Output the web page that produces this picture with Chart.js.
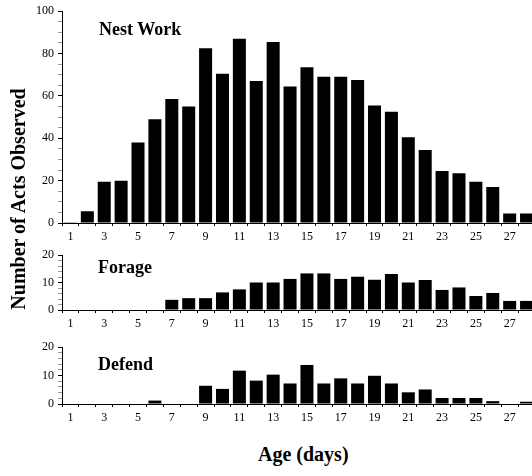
<!DOCTYPE html>
<html>
<head>
<meta charset="utf-8">
<script src="https://cdn.jsdelivr.net/npm/chart.js@4/dist/chart.umd.min.js"></script>
<style>
  html, body { margin: 0; padding: 0; background: #fff; }
  body { width: 532px; height: 476px; overflow: hidden; position: relative; font-family: "Liberation Serif", serif; }
  .panel { position: absolute; left: 0; }
  .label { position: absolute; font-weight: bold; color: #000; white-space: nowrap; }
  .panel-title { font-size: 18px; line-height: 18px; }
  #yTitle { font-size: 20px; line-height: 20px; width: 300px; text-align: center; left: -132px; top: 189px; transform: rotate(-90deg); }
  #xTitle { font-size: 20px; line-height: 20px; left: 258px; top: 444px; }
</style>
</head>
<body>
<div class="panel" style="top:0"><canvas id="nestChart" width="540" height="250"></canvas></div>
<div class="panel" style="top:240px"><canvas id="forageChart" width="540" height="100"></canvas></div>
<div class="panel" style="top:335px"><canvas id="defendChart" width="540" height="100"></canvas></div>

<div class="label panel-title" style="left:99px; top:20px">Nest Work</div>
<div class="label panel-title" style="left:98px; top:258px">Forage</div>
<div class="label panel-title" style="left:98px; top:355px">Defend</div>
<div class="label" id="yTitle">Number of Acts Observed</div>
<div class="label" id="xTitle">Age (days)</div>

<script>
const ages = ["1", "2", "3", "4", "5", "6", "7", "8", "9", "10", "11", "12", "13", "14",
  "15", "16", "17", "18", "19", "20", "21", "22", "23", "24", "25", "26", "27", "28"];
const shownAges = ["1", "3", "5", "7", "9", "11", "13", "15", "17", "19", "21", "23", "25", "27"];

const nestWork = [0.4, 5.5, 19.5, 20, 38, 49, 58.5, 55, 82.5, 70.5, 87, 67, 85.5, 64.5,
  73.5, 69, 69, 67.5, 55.5, 52.5, 40.5, 34.5, 24.5, 23.5, 19.5, 17, 4.5, 4.5];
const forage = [0, 0, 0, 0, 0, 0, 3.7, 4.3, 4.3, 6.4, 7.5, 10, 10, 11.3,
  13.3, 13.3, 11.3, 12.1, 11, 13.1, 10, 10.9, 7.3, 8.2, 5.1, 6.2, 3.3, 3.3];
const defend = [0, 0, 0, 0, 0, 1.2, 0, 0, 6.4, 5.3, 11.7, 8.2, 10.3, 7.2,
  13.7, 7.2, 9, 7.2, 9.9, 7.2, 4.1, 5.1, 2.1, 2.1, 2.1, 1, 0, 0.8];

const nestTicks = [0, 20, 40, 60, 80, 100];
const smallTicks = [0, 10, 20];

const tickFont = { family: "Liberation Serif", size: 12 };

// minor ticks get no label and a lighter mark
function makePanel(canvasId, values, majorTicks, minorStep, padTop, xHeight) {
  const isMajor = (v) => majorTicks.includes(v);
  return new Chart(document.getElementById(canvasId), {
    type: "bar",
    data: {
      labels: ages,
      datasets: [{
        data: values,
        backgroundColor: "#000",
        borderWidth: 0,
        barPercentage: 0.77,
        categoryPercentage: 1.0,
      }],
    },
    options: {
      responsive: false,
      animation: false,
      layout: { padding: { top: padTop, right: 5, left: 0, bottom: 0 } },
      plugins: { legend: { display: false }, tooltip: { enabled: false } },
      scales: {
        x: {
          afterFit: (scale) => { scale.height = xHeight; },
          border: { display: true, color: "#000", width: 1 },
          grid: { display: true, drawOnChartArea: false, drawTicks: true, tickLength: 3, color: "#000" },
          ticks: {
            autoSkip: false,
            maxRotation: 0,
            padding: 4,
            color: "#000",
            font: tickFont,
            callback: function (value) {
              const label = this.getLabelForValue(value);
              return shownAges.includes(label) ? label : "";
            },
          },
        },
        y: {
          min: 0,
          max: majorTicks[majorTicks.length - 1],
          afterFit: (scale) => { scale.width = 62; },
          border: { display: true, color: "#000", width: 1 },
          grid: {
            display: true,
            drawOnChartArea: false,
            drawTicks: true,
            tickLength: 4,
            tickColor: (ctx) => (isMajor(ctx.tick.value) ? "#000" : "#999"),
          },
          ticks: {
            stepSize: minorStep,
            autoSkip: false,
            padding: 4,
            color: "#000",
            font: tickFont,
            callback: (value) => (isMajor(value) ? String(value) : ""),
          },
        },
      },
    },
  });
}

makePanel("nestChart", nestWork, nestTicks, 5, 11, 27);
makePanel("forageChart", forage, smallTicks, 2, 15, 30);
makePanel("defendChart", defend, smallTicks, 2, 12, 31);
</script>
</body>
</html>
